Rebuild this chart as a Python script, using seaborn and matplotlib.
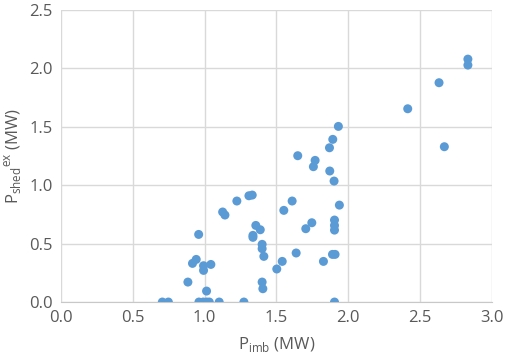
import matplotlib
matplotlib.use("Agg")
import matplotlib.pyplot as plt
import seaborn as sns
import pandas as pd

# imbalance power vs. shed power (MW)
p_imb = [0.705, 0.747, 0.883, 0.915, 0.941, 0.958, 0.960, 0.990, 1.013, 1.032,
         0.992, 0.992, 1.013, 1.043, 1.101, 1.125, 1.141, 1.224, 1.273, 1.308,
         1.331, 1.336, 1.336, 1.356, 1.387, 1.400, 1.400, 1.400, 1.405, 1.412,
         1.502, 1.540, 1.551, 1.609, 1.637, 1.648, 1.704, 1.746, 1.757, 1.769,
         1.827, 1.869, 1.871, 1.892, 1.890, 1.908, 1.901, 1.904, 1.904, 1.904,
         1.904, 1.931, 1.938, 2.414, 2.632, 2.669, 2.833, 2.833]
p_shed = [0.0, 0.0, 0.171, 0.331, 0.365, 0.579, 0.0, 0.0, 0.0, 0.0,
          0.311, 0.271, 0.094, 0.322, 0.0, 0.771, 0.745, 0.865, 0.0, 0.910,
          0.916, 0.571, 0.554, 0.656, 0.619, 0.494, 0.457, 0.171, 0.114, 0.391,
          0.283, 0.348, 0.785, 0.865, 0.420, 1.253, 0.628, 0.679, 1.159, 1.213,
          0.348, 1.321, 1.122, 1.393, 0.408, 0.408, 1.036, 0.702, 0.656, 0.616,
          0.0, 1.504, 0.830, 1.655, 1.878, 1.330, 2.080, 2.029]

df = pd.DataFrame({"p_imb": p_imb, "p_shed": p_shed})

sns.set_style("white")
plt.rcParams["font.family"] = ["Open Sans", "DejaVu Sans"]
plt.rcParams["mathtext.fontset"] = "custom"
plt.rcParams["mathtext.rm"] = "Open Sans"

fig = plt.figure(figsize=(5.05, 3.6), dpi=100)
ax = fig.add_axes([0.121, 0.161, 0.853, 0.811])

sns.scatterplot(data=df, x="p_imb", y="p_shed", ax=ax, color="#5B9BD5",
                s=42, edgecolor="none", zorder=3)

ax.set_xlim(0, 3.0)
ax.set_ylim(0, 2.5)
ax.set_xticks([0.0, 0.5, 1.0, 1.5, 2.0, 2.5, 3.0])
ax.set_yticks([0.0, 0.5, 1.0, 1.5, 2.0, 2.5])
ax.xaxis.set_major_formatter(matplotlib.ticker.FormatStrFormatter("%.1f"))
ax.yaxis.set_major_formatter(matplotlib.ticker.FormatStrFormatter("%.1f"))
ax.grid(True, color="#D9D9D9", linewidth=1.0)
ax.set_axisbelow(True)
for side in ["top", "right", "left"]:
    ax.spines[side].set_visible(False)
ax.spines["bottom"].set_color("#C8C8C8")
ax.tick_params(axis="both", length=0, labelsize=12, colors="#595959", pad=6)

ax.set_xlabel(r"P$_{\mathregular{imb}}$ (MW)", fontsize=12, color="#595959", labelpad=6)
ax.set_ylabel(r"P$_{\mathregular{shed}}$$^{\mathregular{ex}}$ (MW)", fontsize=12,
              color="#595959", labelpad=4)

fig.savefig("out.png", dpi=100)
